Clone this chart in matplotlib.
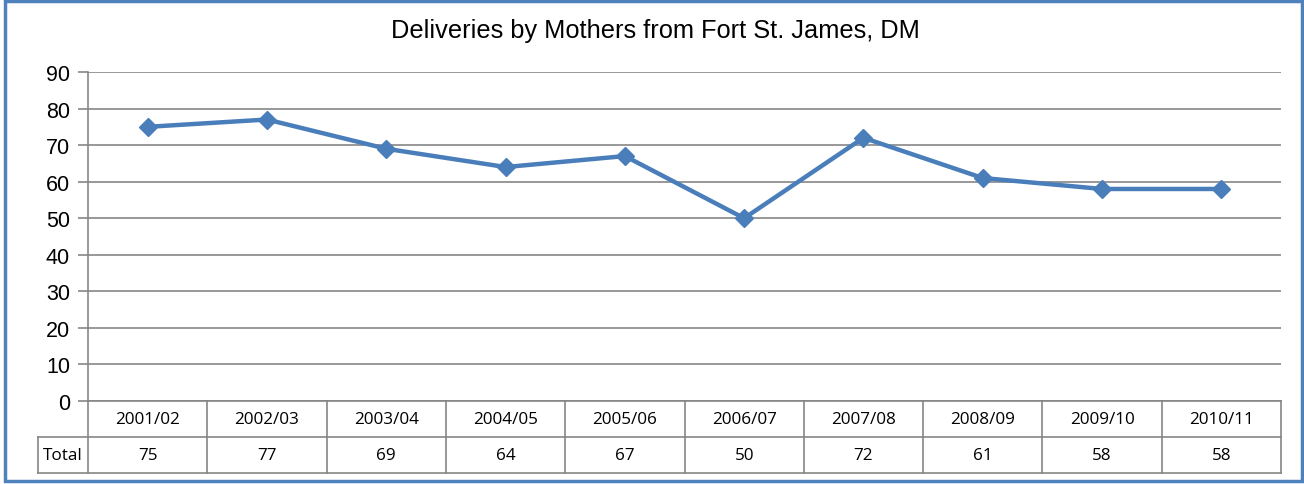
import matplotlib
matplotlib.use("Agg")
import matplotlib.pyplot as plt
from matplotlib.patches import Rectangle

categories = ["2001/02", "2002/03", "2003/04", "2004/05", "2005/06",
              "2006/07", "2007/08", "2008/09", "2009/10", "2010/11"]
totals = [75, 77, 69, 64, 67, 50, 72, 61, 58, 58]
row_label = "Total"
title = "Deliveries by Mothers from Fort St. James, DM"
yticks = [0, 10, 20, 30, 40, 50, 60, 70, 80, 90]

W, H = 1304, 485
fig = plt.figure(figsize=(W / 100, H / 100), dpi=100)

def fx(px):
    return px / W

def fy(py):
    return 1 - py / H

# border
fig.patches.append(Rectangle((fx(5), fy(482)), fx(1297), 480 / H,
                             transform=fig.transFigure, fill=False,
                             edgecolor="#4F81BD", linewidth=2.5))

L, R = 88, 1281
T, B = 73, 402
ax = fig.add_axes([fx(L), fy(B), fx(R - L), (B - T) / H])
n = len(categories)
xs = list(range(n))
ax.plot(xs, totals, color="#4A7EBB", linewidth=3.2, marker="D",
        markersize=9, markerfacecolor="#4A7EBB", markeredgecolor="#4A7EBB",
        zorder=3)
ax.set_xlim(-0.5, n - 0.5)
ax.set_ylim(0, 90)
ax.set_yticks(yticks)
ax.set_yticklabels([str(v) for v in yticks], fontfamily="Liberation Sans",
                   fontsize=15.5)
ax.set_xticks([])
ax.grid(axis="y", color="#868686", linewidth=1.2)
ax.set_axisbelow(True)
for s in ["top", "right", "bottom"]:
    ax.spines[s].set_visible(False)
ax.spines["left"].set_color("#868686")
ax.spines["left"].set_linewidth(1.2)
ax.tick_params(axis="y", length=7, width=1.2, color="#868686", pad=6)

fig.text(fx(655), fy(31), title, ha="center", va="center",
         fontfamily="Liberation Sans", fontsize=18.3)

# table
TL = 38
TB = 474
colw = (R - L) / n
tax = fig.add_axes([fx(TL), fy(TB), fx(R - TL), (TB - B) / H])
tax.set_xlim(-0.5 - (L - TL) / colw, n - 0.5)
tax.set_ylim(0, 2)
tax.axis("off")
lc = "#868686"
lw = 1.2
xl = -0.5 - (L - TL) / colw
tax.plot([-0.5, n - 0.5], [2, 2], color=lc, lw=lw, clip_on=False)
tax.plot([xl, n - 0.5], [1, 1], color=lc, lw=lw, clip_on=False)
tax.plot([xl, n - 0.5], [0, 0], color=lc, lw=lw, clip_on=False)
tax.plot([xl] * 2, [0, 1], color=lc, lw=lw, clip_on=False)
for i in range(n + 1):
    tax.plot([i - 0.5, i - 0.5], [0, 2], color=lc, lw=lw, clip_on=False)
tfont = dict(ha="center", va="center", fontfamily="Open Sans", fontsize=12.3)
for i, (c, v) in enumerate(zip(categories, totals)):
    tax.text(i, 1.5, c, **tfont)
    tax.text(i, 0.5, str(v), **tfont)
tax.text((xl - 0.5) / 2, 0.5, row_label, **tfont)

fig.savefig("out.png", dpi=100)
